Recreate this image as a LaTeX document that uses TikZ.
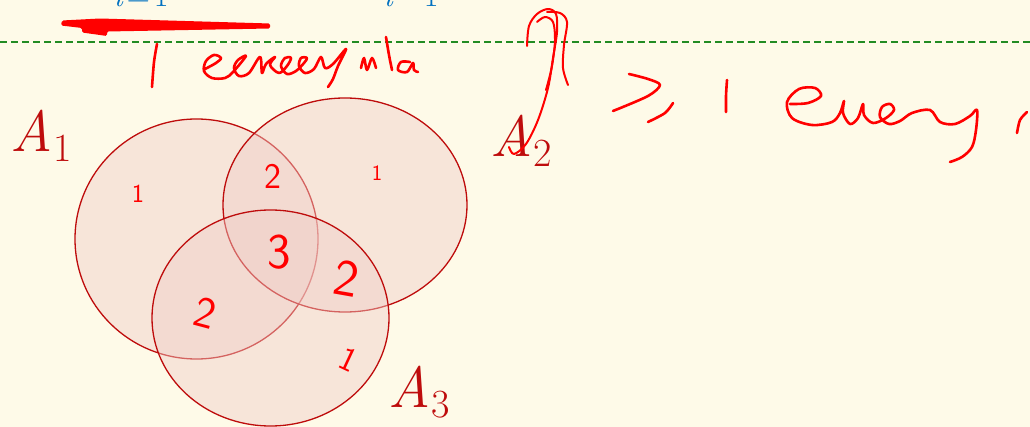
\documentclass[tikz,border=0pt]{standalone}
\usepackage{fontspec}
\definecolor{bgcream}{RGB}{254,250,232}
\definecolor{venred}{RGB}{190,12,12}
\definecolor{venfill}{RGB}{240,205,200}
\definecolor{inkred}{RGB}{255,0,0}
\definecolor{dashgreen}{RGB}{34,139,34}
\definecolor{slideblue}{RGB}{0,112,192}
\newcommand{\setname}[1]{{\itshape A\/}\kern1pt\raisebox{-10pt}{\fontsize{40}{40}\selectfont #1}}
\begin{document}
\begin{tikzpicture}[x=1pt,y=-1pt,
  venn/.style={draw=venred,line width=1.3pt,fill=venfill,fill opacity=0.45},
  setlabel/.style={text=venred,inner sep=0pt,anchor=base west,font=\fontsize{58}{60}\selectfont},
  ink/.style={draw=inkred,line width=2.6pt,line cap=round,line join=round},
  inkdigit/.style={text=inkred,inner sep=0pt,font=\sffamily},
  bluemath/.style={text=slideblue,inner sep=0pt,anchor=base west,font=\fontsize{32}{34}\selectfont}]
\useasboundingbox (0,0) rectangle (1030,427);
\clip (0,0) rectangle (1030,427);
\fill[bgcream] (0,0) rectangle (1030,427);

% cut-off formula at the top
\node[bluemath] (f1) at (113,7) {\itshape i\upshape\kern4pt=\kern4pt1};
\node[bluemath] (f2) at (383,7) {\itshape i\upshape\kern4pt−\kern4pt1};

% dashed separator
\coordinate (dl) at (0,42);
\coordinate (dr) at (1030,42);
\draw[dashgreen,line width=1.2pt,dash pattern=on 7pt off 4pt] (dl) -- (dr);

% Venn diagram
\path[venn] (196.5,239) ellipse [x radius=121.5pt, y radius=120pt];
\path[venn] (345,205) ellipse [x radius=122pt, y radius=107pt];
\path[venn] (270.5,318) ellipse [x radius=118.5pt, y radius=108pt];

\node[setlabel] (A1) at (10,152) {\setname{1}};
\node[setlabel] (A2) at (490,157) {\setname{2}};
\node[setlabel] (A3) at (388,407) {\setname{3}};

% handwritten counts
\node[inkdigit,font=\sffamily\fontsize{26}{26}\selectfont] (c1) at (138,194) {1};
\node[inkdigit,font=\sffamily\fontsize{22}{22}\selectfont] (c2) at (377,173) {1};
\node[inkdigit,font=\sffamily\fontsize{34}{34}\selectfont,rotate=-25] (c3) at (349,360) {1};
\node[inkdigit,font=\sffamily\fontsize{36}{36}\selectfont] (c12) at (273,176) {2};
\node[inkdigit,font=\sffamily\fontsize{50}{50}\selectfont] (c123) at (279,252) {3};
\node[inkdigit,font=\sffamily\fontsize{52}{52}\selectfont,rotate=-10] (c23) at (347,278) {2};
\node[inkdigit,font=\sffamily\fontsize{44}{44}\selectfont,rotate=-15] (c13) at (205,313) {2};

% top arrow stroke
\fill[inkred,rounded corners=1.5pt] (62,20.5) -- (100,18.5) -- (270,23.5) -- (270,28.5) -- (107,31.5) -- (107,36) -- (82,32.5) -- (82,28) -- (61,25.5) -- cycle;

% handwriting: "1 ..." below the line
\draw[ink] plot[smooth,tension=0.5] coordinates {(157,44) (154,62) (152,87)};
\draw[ink] plot[smooth,tension=0.55] coordinates {(205,69) (216,63) (221,58) (214,55) (206,61) (204,71) (212,78) (225,78) (233,72) (246,56) (238,60) (234,68) (239,76) (249,73) (260,57) (262,73) (266,64) (275,57) (270,65) (279,73) (287,66) (291,58) (285,58) (281,66) (287,74) (296,71) (304,63) (307,58) (301,58) (299,66) (305,73) (314,69) (321,57) (325,68) (333,64) (346,49) (338,66) (333,79) (328,87)};
\draw[ink] plot[smooth,tension=0.5] coordinates {(361,68) (364,58) (367,70) (372,58) (376,68)};
\draw[ink] plot[smooth,tension=0.5] coordinates {(386,37) (389,55) (392,70)};
\draw[ink] plot[smooth,tension=0.55] coordinates {(410,62) (401,62) (398,70) (407,72) (413,63) (414,70) (418,72)};

% big curly strokes
\draw[ink,line width=2pt] plot[smooth,tension=0.55] coordinates {(527,46) (529,26) (537,14) (548,9) (556,14) (557,32) (553,58) (548,88) (538,120) (526,144) (514,154) (509,147)};
\draw[ink,line width=2pt] plot[smooth,tension=0.55] coordinates {(537,22) (545,17) (553,22) (555,40) (552,66) (546,90)};
\draw[ink,line width=2pt] plot[smooth,tension=0.55] coordinates {(547,12) (560,13) (567,22) (564,45) (563,68) (568,85)};

% "\geq 1 ..." right of the diagram
\draw[ink] plot[smooth,tension=0.5] coordinates {(629,74) (648,79) (660,85) (648,96) (613,111)};
\draw[ink] plot[smooth,tension=0.5] coordinates {(673,103) (665,113) (648,122)};
\draw[ink] plot[smooth,tension=0.5] coordinates {(727,80) (726,96) (726,112)};
\draw[ink] plot[smooth,tension=0.55] coordinates {(790,104) (808,103) (821,96) (815,88) (799,89) (787,102) (792,118) (812,125) (832,122) (840,113) (844,101) (843,113) (850,124) (858,118) (863,104) (864,115) (873,123) (886,118) (894,110) (890,104) (882,107) (880,117) (889,124) (900,121) (912,113) (930,110) (940,122) (955,124) (970,116) (977,110) (976,130) (972,147) (962,157) (950,162)};
\draw[ink] plot[smooth,tension=0.5] coordinates {(1017,133) (1020,120) (1027,112)};
\end{tikzpicture}
\end{document}
